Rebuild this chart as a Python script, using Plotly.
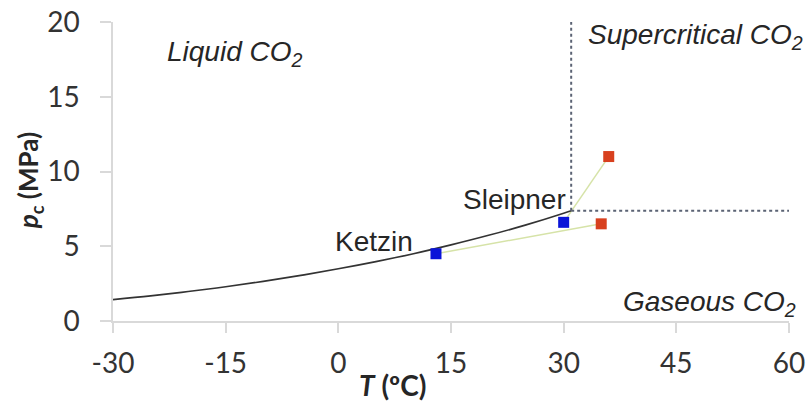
import plotly.graph_objects as go

# Vapour-pressure (liquid/gas) curve of CO2 up to the critical point
curve_T = [-30, -25, -20, -15, -10, -5, 0, 5, 10, 15, 20, 25, 30, 31]
curve_p = [1.43, 1.68, 1.97, 2.29, 2.65, 3.05, 3.49, 3.97, 4.50, 5.09, 5.73, 6.43, 7.21, 7.38]

# Critical point
crit_T = 31
crit_p = 7.38
x_max = 60
y_max = 20

# Sites: injection (blue) and reservoir (red) conditions
sites = ["Ketzin", "Sleipner"]
inj_T = [13, 30]
inj_p = [4.5, 6.6]
res_T = [35, 36]
res_p = [6.5, 11.0]

x_ticks = [-30, -15, 0, 15, 30, 45, 60]
x_ticktext = ["-30", "-15", "0", "15", "30", "45", "60"]
y_ticks = [0, 5, 10, 15, 20]
y_ticktext = ["0", "5", "10", "15", "20"]

tick_font = dict(family="Lato, Carlito, sans-serif", size=28, color="#333333")
lab_font = dict(family="Liberation Sans, Arial, sans-serif", size=28, color="#262626")
title_font = dict(family="Lato, sans-serif", size=28, color="#262626")

fig = go.Figure()

# connecting lines site injection -> reservoir
for i in range(len(sites)):
    fig.add_trace(go.Scatter(x=[inj_T[i], res_T[i]], y=[inj_p[i], res_p[i]], mode="lines",
                             line=dict(color="#d6e3a8", width=1.5), showlegend=False,
                             hoverinfo="skip"))

fig.add_trace(go.Scatter(x=curve_T, y=curve_p, mode="lines",
                         line=dict(color="#333333", width=1.6, shape="spline"),
                         showlegend=False))

# critical isolines
fig.add_trace(go.Scatter(x=[crit_T, crit_T], y=[crit_p, y_max], mode="lines",
                         line=dict(color="#5b6374", width=2, dash="dot"), showlegend=False))
fig.add_trace(go.Scatter(x=[crit_T, x_max], y=[crit_p, crit_p], mode="lines",
                         line=dict(color="#5b6374", width=2, dash="dot"), showlegend=False))

fig.add_trace(go.Scatter(x=inj_T, y=inj_p, mode="markers",
                         marker=dict(symbol="square", size=11, color="#0a14d8"),
                         showlegend=False, cliponaxis=False))
fig.add_trace(go.Scatter(x=res_T, y=res_p, mode="markers",
                         marker=dict(symbol="square", size=11, color="#d8401e"),
                         showlegend=False, cliponaxis=False))

annotations = [
    dict(x=4.75, y=5.3, text="Ketzin", xref="x", yref="y", showarrow=False,
         xanchor="center", yanchor="middle", font=lab_font),
    dict(x=30.6, y=8.1, text="Sleipner", xref="x", yref="y", showarrow=False,
         xanchor="right", yanchor="middle", font=lab_font),
    dict(x=-13.8, y=17.9, text="<i>Liquid CO<sub>2</sub></i>", xref="x", yref="y",
         showarrow=False, xanchor="center", yanchor="middle", font=lab_font),
    dict(x=1.0237, y=19.0, text="<i>Supercritical CO<sub>2</sub></i>", xref="paper", yref="y",
         showarrow=False, xanchor="right", yanchor="middle", font=lab_font),
    dict(x=1.0133, y=1.2, text="<i>Gaseous CO<sub>2</sub></i>", xref="paper", yref="y",
         showarrow=False, xanchor="right", yanchor="middle", font=lab_font),
    dict(x=0.414, y=-0.215, text="<b><i>T</i> (ºC)</b>", xref="paper", yref="paper",
         showarrow=False, xanchor="center", yanchor="middle", font=title_font),
    dict(x=-0.124, y=0.468, text="<b><i>p</i><sub>c</sub> (MPa)</b>", xref="paper", yref="paper",
         showarrow=False, xanchor="center", yanchor="middle", textangle=-90,
         font=dict(family="Lato, sans-serif", size=26, color="#262626")),
]

fig.update_layout(
    width=808, height=403,
    margin=dict(l=113, r=19, t=22, b=82),
    plot_bgcolor="white", paper_bgcolor="white",
    annotations=annotations,
)
fig.update_xaxes(range=[-30, 60], tickmode="array", tickvals=x_ticks, ticktext=x_ticktext,
                 showgrid=False, zeroline=False, showline=True, linecolor="#d9d9d9", linewidth=1.5,
                 ticks="outside", ticklen=10, tickcolor="#d9d9d9", tickwidth=1.5,
                 tickfont=tick_font, ticklabelstandoff=7, automargin=False)
fig.update_yaxes(range=[0, 20], tickmode="array", tickvals=y_ticks, ticktext=y_ticktext,
                 showgrid=False, zeroline=False, showline=True, linecolor="#d9d9d9", linewidth=1.5,
                 ticks="outside", ticklen=11, tickcolor="#d9d9d9", tickwidth=1.5,
                 tickfont=tick_font, ticklabelstandoff=15, automargin=False)

fig.write_html("out.html", config={"displayModeBar": False},
               post_script="document.body.style.margin='0';document.body.style.padding='0';")
